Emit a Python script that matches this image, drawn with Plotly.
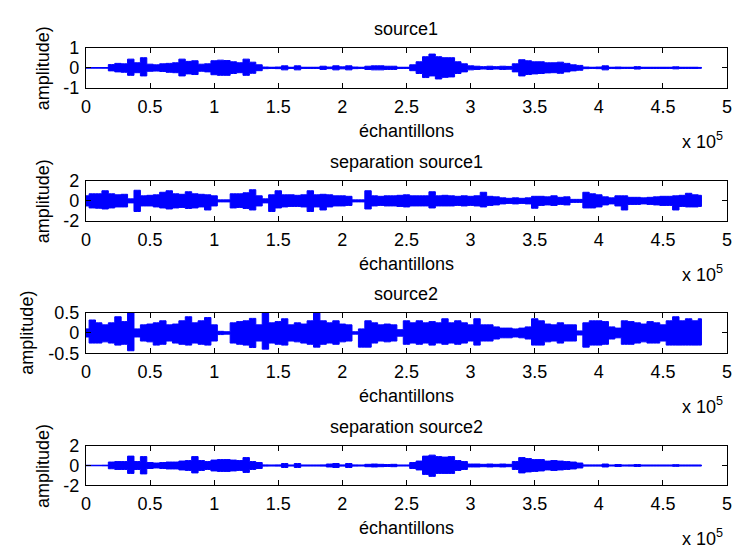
import plotly.graph_objects as go

# sample positions (units of 1e5 samples), step 0.05e5
step = 0.05
n_pts = 97
x_vals = [round(i * step, 2) * 1e5 for i in range(n_pts)]

titles = ["source1", "separation source1", "source2", "separation source2"]
xlabel = "échantillons"
ylabel = "amplitude)"
x_tick_vals = [0, 50000, 100000, 150000, 200000, 250000, 300000, 350000, 400000, 450000, 500000]
x_tick_text = ["0", "0.5", "1", "1.5", "2", "2.5", "3", "3.5", "4", "4.5", "5"]
y_ranges = [[-1, 1], [-2, 2], [-0.5, 0.5], [-2, 2]]
y_ticks = [[-1, 0, 1], [-2, 0, 2], [-0.5, 0, 0.5], [-2, 0, 2]]
y_tick_text = [["-1", "0", "1"], ["-2", "0", "2"], ["-0.5", "0", "0.5"], ["-2", "0", "2"]]

# envelope (upper peak, lower peak magnitude)
src1_up = [0, 0, 0, 0.01, 0.16, 0.22, 0.2, 0.43, 0.25, 0.5,
           0.18, 0.15, 0.2, 0.22, 0.25, 0.43, 0.32, 0.35, 0.18, 0.2,
           0.35, 0.38, 0.36, 0.3, 0.25, 0.43, 0.28, 0.15, 0.04, 0.03,
           0.04, 0.1, 0.03, 0.1, 0.03, 0.03, 0.03, 0.08, 0.04, 0.1,
           0.05, 0.1, 0.04, 0.03, 0.08, 0.1, 0.1, 0.08, 0.08, 0.03,
           0.03, 0.15, 0.3, 0.55, 0.68, 0.55, 0.5, 0.5, 0.3, 0.2,
           0.1, 0.08, 0.06, 0.08, 0.06, 0.08, 0.07, 0.2, 0.4, 0.35,
           0.3, 0.3, 0.25, 0.25, 0.28, 0.22, 0.15, 0.12, 0.04, 0.03,
           0.04, 0.1, 0.03, 0.04, 0.03, 0.03, 0.06, 0.03, 0.03, 0.03,
           0.03, 0.03, 0.05, 0.03, 0.03, 0.03, 0.02]
src1_lo = [0, 0, 0, 0.01, 0.15, 0.2, 0.22, 0.37, 0.24, 0.4,
           0.17, 0.16, 0.18, 0.22, 0.24, 0.4, 0.3, 0.33, 0.17, 0.2,
           0.34, 0.37, 0.37, 0.28, 0.24, 0.37, 0.27, 0.14, 0.04, 0.03,
           0.04, 0.1, 0.03, 0.1, 0.03, 0.03, 0.03, 0.08, 0.04, 0.1,
           0.05, 0.1, 0.04, 0.03, 0.08, 0.1, 0.1, 0.08, 0.08, 0.03,
           0.03, 0.14, 0.28, 0.48, 0.4, 0.55, 0.47, 0.45, 0.28, 0.2,
           0.1, 0.08, 0.06, 0.08, 0.06, 0.08, 0.07, 0.2, 0.4, 0.33,
           0.3, 0.28, 0.25, 0.24, 0.27, 0.2, 0.15, 0.12, 0.04, 0.03,
           0.04, 0.1, 0.03, 0.04, 0.03, 0.03, 0.06, 0.03, 0.03, 0.03,
           0.03, 0.03, 0.05, 0.03, 0.03, 0.03, 0.02]

sep1_up = [0.5, 0.7, 0.7, 1.0, 0.7, 0.6, 0.65, 0.2, 1.05, 0.5,
           0.55, 0.6, 0.85, 1.0, 0.7, 0.65, 0.9, 0.7, 0.65, 0.6,
           0.5, 0.1, 0.1, 0.7, 0.7, 0.8, 1.1, 0.5, 0.2, 0.6,
           1.0, 0.6, 0.6, 0.55, 0.6, 1.0, 0.6, 0.65, 0.6, 0.5,
           0.5, 0.45, 0.1, 0.1, 1.0, 0.5, 0.45, 0.5, 0.5, 0.55,
           0.6, 0.5, 0.5, 0.5, 0.9, 0.5, 0.55, 0.5, 0.45, 0.5,
           0.45, 0.5, 0.85, 0.45, 0.4, 0.3, 0.25, 0.3, 0.25, 0.3,
           0.45, 0.45, 0.4, 0.5, 0.35, 0.4, 0.15, 0.15, 0.85, 0.7,
           0.6, 0.4, 0.3, 0.5, 0.5, 0.35, 0.35, 0.3, 0.35, 0.4,
           0.45, 0.45, 0.5, 0.55, 0.75, 0.6, 0.55]
sep1_lo = [0.5, 0.7, 0.73, 0.8, 0.7, 0.6, 0.6, 0.2, 1.05, 0.5,
           0.5, 0.6, 0.7, 0.8, 0.7, 0.65, 0.75, 0.7, 0.6, 0.9,
           0.5, 0.1, 0.1, 0.7, 0.65, 0.75, 0.9, 0.5, 0.2, 1.05,
           0.7, 0.6, 0.55, 0.55, 0.6, 1.05, 0.6, 0.9, 0.6, 0.5,
           0.5, 0.45, 0.1, 0.1, 0.8, 0.5, 0.45, 0.5, 0.5, 0.55,
           0.6, 0.5, 0.5, 0.5, 0.7, 0.5, 0.5, 0.5, 0.45, 0.5,
           0.45, 0.5, 0.6, 0.45, 0.4, 0.3, 0.25, 0.3, 0.25, 0.3,
           0.73, 0.45, 0.4, 0.45, 0.35, 0.4, 0.15, 0.15, 0.7, 0.7,
           0.6, 0.4, 0.3, 0.5, 0.9, 0.35, 0.35, 0.3, 0.35, 0.4,
           0.45, 0.45, 0.9, 0.55, 0.6, 0.6, 0.55]

src2_up = [0.1, 0.32, 0.25, 0.2, 0.25, 0.4, 0.28, 0.5, 0.1, 0.2,
           0.22, 0.25, 0.3, 0.2, 0.22, 0.3, 0.4, 0.25, 0.3, 0.38,
           0.2, 0.04, 0.03, 0.25, 0.28, 0.3, 0.36, 0.2, 0.49, 0.25,
           0.28, 0.35, 0.2, 0.25, 0.22, 0.3, 0.49, 0.3, 0.25, 0.3,
           0.22, 0.2, 0.03, 0.1, 0.3, 0.25, 0.2, 0.22, 0.2, 0.08,
           0.3, 0.25, 0.3, 0.25, 0.28, 0.25, 0.35, 0.25, 0.3, 0.25,
           0.2, 0.35, 0.2, 0.2, 0.15, 0.12, 0.12, 0.1, 0.12, 0.15,
           0.35, 0.3, 0.22, 0.2, 0.25, 0.2, 0.2, 0.05, 0.25, 0.3,
           0.3, 0.28, 0.15, 0.12, 0.3, 0.28, 0.25, 0.22, 0.28, 0.25,
           0.2, 0.3, 0.4, 0.3, 0.35, 0.3, 0.35]
src2_lo = [0.1, 0.25, 0.25, 0.22, 0.25, 0.3, 0.28, 0.44, 0.1, 0.2,
           0.22, 0.3, 0.28, 0.2, 0.25, 0.28, 0.3, 0.25, 0.28, 0.3,
           0.2, 0.04, 0.03, 0.25, 0.28, 0.3, 0.36, 0.2, 0.4, 0.25,
           0.28, 0.3, 0.2, 0.22, 0.25, 0.28, 0.35, 0.28, 0.25, 0.28,
           0.22, 0.2, 0.03, 0.35, 0.35, 0.25, 0.2, 0.22, 0.2, 0.08,
           0.28, 0.25, 0.28, 0.25, 0.3, 0.25, 0.28, 0.25, 0.28, 0.25,
           0.2, 0.3, 0.2, 0.2, 0.15, 0.12, 0.12, 0.1, 0.12, 0.15,
           0.3, 0.3, 0.22, 0.2, 0.25, 0.2, 0.2, 0.05, 0.35, 0.3,
           0.3, 0.28, 0.15, 0.12, 0.28, 0.28, 0.25, 0.22, 0.25, 0.25,
           0.2, 0.3, 0.3, 0.3, 0.3, 0.3, 0.3]

sep2_up = [0, 0, 0, 0.01, 0.35, 0.4, 0.4, 0.95, 0.4, 0.9,
           0.3, 0.25, 0.3, 0.35, 0.35, 0.45, 0.5, 0.9, 0.5, 0.4,
           0.55, 0.6, 0.6, 0.55, 0.5, 0.8, 0.4, 0.3, 0.05, 0.04,
           0.05, 0.2, 0.04, 0.2, 0.04, 0.04, 0.04, 0.05, 0.15, 0.2,
           0.05, 0.2, 0.05, 0.04, 0.12, 0.15, 0.12, 0.1, 0.12, 0.04,
           0.04, 0.3, 0.45, 0.95, 1.05, 0.9, 0.85, 0.9, 0.5, 0.4,
           0.15, 0.15, 0.12, 0.15, 0.12, 0.15, 0.12, 0.4, 0.8, 0.7,
           0.6, 0.6, 0.45, 0.5, 0.45, 0.4, 0.35, 0.25, 0.05, 0.05,
           0.05, 0.15, 0.04, 0.1, 0.04, 0.05, 0.1, 0.04, 0.04, 0.04,
           0.04, 0.04, 0.08, 0.04, 0.04, 0.04, 0.04]
sep2_lo = [0, 0, 0, 0.01, 0.33, 0.4, 0.4, 0.8, 0.4, 0.85,
           0.3, 0.25, 0.3, 0.35, 0.35, 0.45, 0.5, 0.75, 0.5, 0.4,
           0.55, 0.6, 0.6, 0.55, 0.5, 0.7, 0.4, 0.3, 0.05, 0.04,
           0.05, 0.2, 0.04, 0.2, 0.04, 0.04, 0.04, 0.05, 0.15, 0.2,
           0.05, 0.2, 0.05, 0.04, 0.12, 0.15, 0.12, 0.1, 0.12, 0.04,
           0.04, 0.3, 0.45, 0.9, 1.1, 0.8, 0.8, 0.8, 0.5, 0.4,
           0.15, 0.15, 0.12, 0.15, 0.12, 0.15, 0.12, 0.4, 0.75, 0.65,
           0.6, 0.55, 0.45, 0.5, 0.45, 0.4, 0.35, 0.25, 0.05, 0.05,
           0.05, 0.15, 0.04, 0.1, 0.04, 0.05, 0.1, 0.04, 0.04, 0.04,
           0.04, 0.04, 0.08, 0.04, 0.04, 0.04, 0.04]

series = [(src1_up, src1_lo), (sep1_up, sep1_lo), (src2_up, src2_lo), (sep2_up, sep2_lo)]

W, H = 739, 556
FONT = "Liberation Sans, Arial, sans-serif"
FS = 18
# plot boxes in pixels: (top, bottom)
boxes = [(39, 81), (177, 219), (314, 356), (452, 493)]
x_left, x_right = 82, 732

fig = go.Figure()
annotations = []
for k, ((up, lo), (top, bot)) in enumerate(zip(series, boxes)):
    xa = "x" if k == 0 else f"x{k+1}"
    ya = "y" if k == 0 else f"y{k+1}"
    xs = x_vals + x_vals[::-1]
    ys = up + [-v for v in lo][::-1]
    fig.add_trace(go.Scatter(x=xs, y=ys, mode="lines", fill="toself",
                             fillcolor="#0000ff",
                             line=dict(color="#0000ff", width=1, shape="hvh"),
                             xaxis=xa, yaxis=ya, showlegend=False, hoverinfo="skip"))
    # centre line of the waveform
    fig.add_trace(go.Scatter(x=[x_vals[0], x_vals[-1]], y=[0, 0], mode="lines",
                             line=dict(color="#0000ff", width=1.5),
                             xaxis=xa, yaxis=ya, showlegend=False, hoverinfo="skip"))
    dom_y = [1 - bot / H, 1 - top / H]
    axkey = "" if k == 0 else str(k + 1)
    fig.update_layout(**{
        f"xaxis{axkey}": dict(domain=[x_left / W, x_right / W], anchor=ya,
                               range=[0, 500000], tickvals=x_tick_vals, ticktext=x_tick_text,
                               ticks="inside", ticklen=5, tickwidth=1, tickcolor="black",
                               showline=True, linecolor="black", linewidth=1, mirror="ticks",
                               showgrid=False, zeroline=False,
                               tickfont=dict(family=FONT, size=FS, color="black"),
                               ticklabelstandoff=2),
        f"yaxis{axkey}": dict(domain=dom_y, anchor=xa, range=y_ranges[k],
                               tickvals=y_ticks[k], ticktext=y_tick_text[k],
                               ticks="inside", ticklen=5, tickwidth=1, tickcolor="black",
                               showline=True, linecolor="black", linewidth=1, mirror="ticks",
                               showgrid=False, zeroline=False,
                               tickfont=dict(family=FONT, size=FS, color="black"),
                               ticklabelstandoff=2),
    })
    cx = (x_left + x_right) / 2 / W
    annotations.append(dict(text=titles[k], x=cx, y=1 - (top - 19) / H, xref="paper", yref="paper",
                            showarrow=False, font=dict(family=FONT, size=FS, color="black"),
                            xanchor="center", yanchor="middle"))
    annotations.append(dict(text=xlabel, x=cx, y=1 - (bot + 44) / H, xref="paper", yref="paper",
                            showarrow=False, font=dict(family=FONT, size=FS, color="black"),
                            xanchor="center", yanchor="middle"))
    annotations.append(dict(text="x 10<sup>5</sup>", x=730 / W, y=1 - (bot + 54) / H,
                            xref="paper", yref="paper", showarrow=False,
                            font=dict(family=FONT, size=FS, color="black"),
                            xanchor="right", yanchor="middle"))
    ylx = 22 if k == 2 else 38
    annotations.append(dict(text=ylabel, x=ylx / W, y=1 - (top + bot) / 2 / H, xref="paper", yref="paper",
                            showarrow=False, textangle=-90, font=dict(family=FONT, size=FS, color="black"),
                            xanchor="center", yanchor="middle"))

fig.update_layout(width=W, height=H, margin=dict(l=0, r=0, t=0, b=0),
                  paper_bgcolor="white", plot_bgcolor="white", annotations=annotations)
fig.write_html("out.html")
